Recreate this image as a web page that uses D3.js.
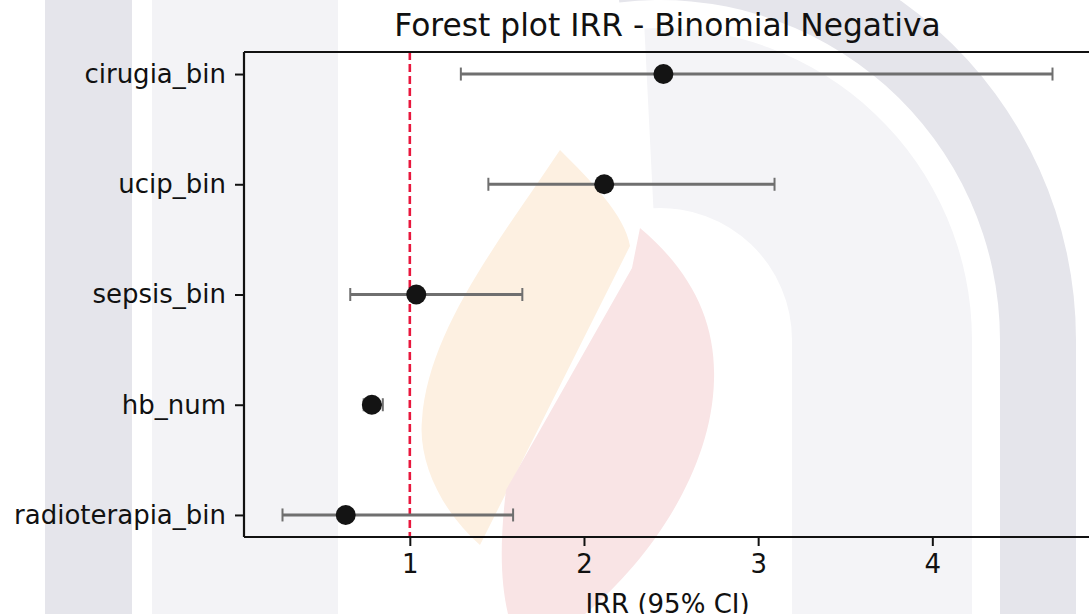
<!DOCTYPE html>
<html>
<head>
<meta charset="utf-8">
<script src="https://cdn.jsdelivr.net/npm/d3@7"></script>
<style>
  html, body { margin: 0; padding: 0; background: #ffffff; }
  svg { display: block; }
  text { font-family: "DejaVu Sans", sans-serif; fill: #111; }
</style>
</head>
<body>
<svg id="chart" width="1089" height="614"></svg>
<script>
// ---- data ----
const categories = ["cirugia_bin", "ucip_bin", "sepsis_bin", "hb_num", "radioterapia_bin"];
const irr    = [2.456, 2.116, 1.037, 0.782, 0.632];
const ciLow  = [1.293, 1.451, 0.658, 0.735, 0.269];
const ciHigh = [4.690, 3.094, 1.646, 0.845, 1.593];
const xTicks = [1, 2, 3, 4];
const refValue = 1;
const titleText = "Forest plot IRR - Binomial Negativa";
const xLabelText = "IRR (95% CI)";

const svg = d3.select("#chart");
const W = 1089, H = 614;

// ---- background watermark (decorative) ----
const wm = svg.append("g");
wm.append("rect").attr("x", 45).attr("y", 0).attr("width", 87).attr("height", H).attr("fill", "#e5e5eb");
wm.append("rect").attr("x", 152).attr("y", 0).attr("width", 186).attr("height", H).attr("fill", "#f3f3f6");
const cx = 660, cy = 340;
const ringDark = d3.arc().innerRadius(340).outerRadius(416).startAngle(-0.12).endAngle(Math.PI / 2);
const ringLight = d3.arc().innerRadius(132).outerRadius(312).startAngle(-0.05).endAngle(Math.PI / 2);
wm.append("path").attr("transform", `translate(${cx},${cy})`).attr("d", ringLight()).attr("fill", "#f4f4f7");
wm.append("rect").attr("x", cx + 132).attr("y", cy).attr("width", 180).attr("height", H - cy).attr("fill", "#f4f4f7");
wm.append("path").attr("transform", `translate(${cx},${cy})`).attr("d", ringDark()).attr("fill", "#e5e5eb");
wm.append("rect").attr("x", cx + 340).attr("y", cy).attr("width", 76).attr("height", H - cy).attr("fill", "#e5e5eb");
// flames
wm.append("path")
  .attr("d", "M560,150 C590,180 625,215 630,246 L480,545 C440,510 418,460 422,420 C428,330 500,240 560,150 Z")
  .attr("fill", "#fdf0e1");
wm.append("path")
  .attr("d", "M640,228 C690,270 716,320 714,380 C712,470 650,560 585,614 L508,614 C500,580 500,540 506,490 L632,268 Z")
  .attr("fill", "#f9e4e5");

// ---- scales ----
const plotLeft = 244, plotRight = 1091, plotTop = 52, plotBottom = 537;
const lo = d3.min(ciLow), hi = d3.max(ciHigh);
const span = hi - lo;
const x = d3.scaleLinear().domain([lo - 0.05 * span, hi + 0.05 * span]).range([plotLeft, plotRight]);
const y = d3.scalePoint().domain(categories).range([plotTop, plotBottom]).padding(0.2);

const rows = categories.map((c, i) => ({ cat: c, v: irr[i], l: ciLow[i], h: ciHigh[i] }));

// ---- reference line ----
svg.append("line")
  .attr("x1", x(refValue)).attr("x2", x(refValue))
  .attr("y1", plotTop).attr("y2", plotBottom)
  .attr("stroke", "#e8173d").attr("stroke-width", 2.6)
  .attr("stroke-dasharray", "8,4");

// ---- error bars ----
const eb = svg.append("g");
eb.selectAll("line.ci").data(rows).join("line")
  .attr("class", "ci")
  .attr("x1", d => x(d.l)).attr("x2", d => x(d.h))
  .attr("y1", d => y(d.cat)).attr("y2", d => y(d.cat))
  .attr("stroke", "#6f6f6f").attr("stroke-width", 3);
const capH = 6.5;
eb.selectAll("line.capL").data(rows).join("line")
  .attr("x1", d => x(d.l)).attr("x2", d => x(d.l))
  .attr("y1", d => y(d.cat) - capH).attr("y2", d => y(d.cat) + capH)
  .attr("stroke", "#6f6f6f").attr("stroke-width", 2);
eb.selectAll("line.capH").data(rows).join("line")
  .attr("x1", d => x(d.h)).attr("x2", d => x(d.h))
  .attr("y1", d => y(d.cat) - capH).attr("y2", d => y(d.cat) + capH)
  .attr("stroke", "#6f6f6f").attr("stroke-width", 2);

// ---- points ----
svg.append("g").selectAll("circle").data(rows).join("circle")
  .attr("cx", d => x(d.v)).attr("cy", d => y(d.cat)).attr("r", 10)
  .attr("fill", "#141414");

// ---- axes ----
const fontSize = 26;
const yAxis = svg.append("g").attr("transform", `translate(${plotLeft},0)`)
  .call(d3.axisLeft(y).tickSize(9).tickPadding(9).tickSizeOuter(0));
yAxis.select(".domain").remove();
yAxis.selectAll(".tick line").attr("stroke", "#111").attr("stroke-width", 2);
yAxis.selectAll(".tick text").attr("font-size", fontSize).attr("font-family", "DejaVu Sans").attr("fill", "#111").attr("dy", "0.32em");

const xAxis = svg.append("g").attr("transform", `translate(0,${plotBottom})`)
  .call(d3.axisBottom(x).tickValues(xTicks).tickFormat(d3.format("d")).tickSize(9).tickPadding(9).tickSizeOuter(0));
xAxis.select(".domain").remove();
xAxis.selectAll(".tick line").attr("stroke", "#111").attr("stroke-width", 2);
xAxis.selectAll(".tick text").attr("font-size", fontSize).attr("font-family", "DejaVu Sans").attr("fill", "#111");

// spines
const sp = svg.append("g").attr("stroke", "#111").attr("stroke-width", 2.2).attr("fill", "none");
sp.append("line").attr("x1", plotLeft).attr("x2", plotLeft).attr("y1", plotTop).attr("y2", plotBottom);
sp.append("line").attr("x1", plotLeft).attr("x2", plotRight).attr("y1", plotTop).attr("y2", plotTop);
sp.append("line").attr("x1", plotLeft).attr("x2", plotRight).attr("y1", plotBottom).attr("y2", plotBottom);
sp.append("line").attr("x1", plotRight).attr("x2", plotRight).attr("y1", plotTop).attr("y2", plotBottom);

// ---- titles ----
svg.append("text")
  .attr("x", (plotLeft + plotRight) / 2).attr("y", 36)
  .attr("text-anchor", "middle").attr("font-size", 31.3)
  .text(titleText);
svg.append("text")
  .attr("x", (plotLeft + plotRight) / 2).attr("y", 613)
  .attr("text-anchor", "middle").attr("font-size", fontSize)
  .text(xLabelText);
</script>
</body>
</html>
